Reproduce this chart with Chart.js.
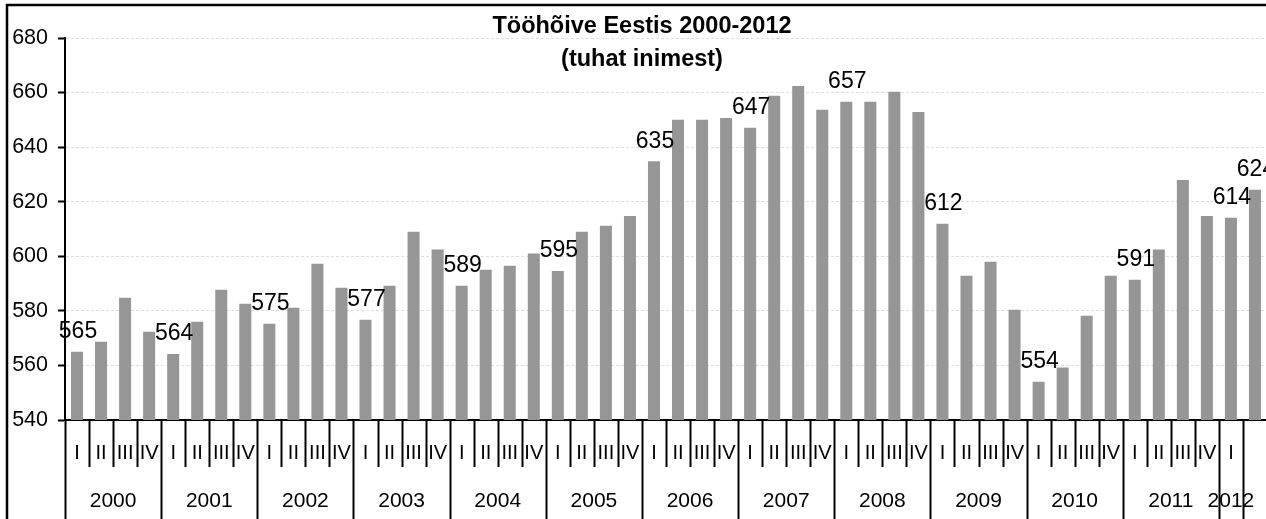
<!DOCTYPE html>
<html>
<head>
<meta charset="utf-8">
<title>Tööhõive Eestis 2000-2012</title>
<script src="https://cdn.jsdelivr.net/npm/chart.js"></script>
<style>
  html, body { margin: 0; padding: 0; background: #fff; overflow: hidden; }
  #wrap { width: 1270px; height: 519px; }
</style>
</head>
<body>
<div id="wrap"><canvas id="chart" width="1270" height="519"></canvas></div>
<script>
// andmed (tuhat inimest), kvartalid 2000 I ... 2012 II
const years = ['2000', '2001', '2002', '2003', '2004', '2005', '2006',
               '2007', '2008', '2009', '2010', '2011', '2012'];
const quartersPerYear = [4, 4, 4, 4, 4, 4, 4, 4, 4, 4, 4, 4, 1];
const quarterLabels = [
  'I', 'II', 'III', 'IV', 'I', 'II', 'III', 'IV', 'I', 'II', 'III', 'IV',
  'I', 'II', 'III', 'IV', 'I', 'II', 'III', 'IV', 'I', 'II', 'III', 'IV',
  'I', 'II', 'III', 'IV', 'I', 'II', 'III', 'IV', 'I', 'II', 'III', 'IV',
  'I', 'II', 'III', 'IV', 'I', 'II', 'III', 'IV', 'I', 'II', 'III', 'IV',
  'I', ''
];
const employed = [
  565.0, 568.7, 584.8, 572.3,
  564.2, 576.0, 587.7, 582.6,
  575.3, 581.1, 597.3, 588.5,
  576.7, 589.2, 609.0, 602.5,
  589.2, 595.1, 596.5, 601.0,
  594.6, 609.0, 611.2, 614.8,
  634.8, 650.0, 650.0, 650.7,
  647.1, 658.8, 662.4, 653.7,
  656.6, 656.6, 660.3, 652.9,
  611.9, 592.9, 598.0, 580.4,
  554.0, 559.2, 578.2, 592.9,
  591.4, 602.5, 628.0, 614.8,
  614.1, 624.4
];
const yTicks = [540, 560, 580, 600, 620, 640, 660, 680];
const titleLines = ['Tööhõive Eestis 2000-2012', '(tuhat inimest)'];

const FONT = '"Liberation Sans", Arial, sans-serif';
Chart.defaults.font.family = FONT;
Chart.defaults.color = '#000';

// raam, pealkiri, kvartali- ja aastasildid, väärtussildid
const decor = {
  id: 'decor',
  beforeDraw(chart) {
    const ctx = chart.ctx;
    ctx.save();
    ctx.strokeStyle = '#000';
    ctx.lineWidth = 2.5;
    ctx.beginPath();
    ctx.moveTo(7, chart.height + 5);
    ctx.lineTo(7, 5);
    ctx.lineTo(chart.width + 5, 5);
    ctx.stroke();
    ctx.restore();
  },
  afterDraw(chart) {
    const ctx = chart.ctx;
    const x = chart.scales.x;
    const area = chart.chartArea;
    const half = (x.getPixelForValue(1) - x.getPixelForValue(0)) / 2;
    const edge = i => x.getPixelForValue(i) - half;

    ctx.save();
    ctx.fillStyle = '#000';
    ctx.strokeStyle = '#000';
    ctx.textAlign = 'center';
    ctx.textBaseline = 'middle';

    // kvartalid
    ctx.font = '20px ' + FONT;
    quarterLabels.forEach((q, i) => {
      ctx.fillText(q, x.getPixelForValue(i), area.bottom + 33);
    });

    // eraldusjooned
    ctx.lineWidth = 2;
    const yearStarts = [];
    let k = 0;
    quartersPerYear.forEach(n => { yearStarts.push(k); k += n; });
    yearStarts.push(k);
    for (let i = 0; i < quarterLabels.length; i++) {
      const long = yearStarts.includes(i);
      const px = Math.round(edge(i)) + 0.5;
      ctx.beginPath();
      ctx.moveTo(px, area.bottom);
      ctx.lineTo(px, long ? chart.height : area.bottom + 47);
      ctx.stroke();
    }

    // aastad
    ctx.font = '21px ' + FONT;
    years.forEach((y, j) => {
      const a = edge(yearStarts[j]);
      const b = edge(yearStarts[j] + quartersPerYear[j]);
      ctx.fillText(y, (a + b) / 2, area.bottom + 81);
    });

    // väärtused: iga aasta I kvartal ja viimane
    const meta = chart.getDatasetMeta(0);
    ctx.font = '23px ' + FONT;
    employed.forEach((v, i) => {
      if (quarterLabels[i] !== 'I' && i !== employed.length - 1) return;
      const bar = meta.data[i];
      ctx.fillText(String(Math.round(v)), bar.x + 1, bar.y - 20);
    });

    // pealkiri
    ctx.font = 'bold 23.5px ' + FONT;
    ctx.fillText(titleLines[0], 642, 27);
    ctx.fillText(titleLines[1], 642, 60);
    ctx.restore();
  }
};

new Chart(document.getElementById('chart'), {
  type: 'bar',
  data: {
    labels: quarterLabels,
    datasets: [{
      data: employed,
      backgroundColor: '#969696',
      borderWidth: 0,
      categoryPercentage: 0.5,
      barPercentage: 1.0
    }]
  },
  options: {
    responsive: false,
    animation: false,
    layout: { padding: { top: 38, right: 3, left: 0, bottom: 0 } },
    plugins: {
      legend: { display: false },
      title: { display: false },
      tooltip: { enabled: false }
    },
    scales: {
      x: {
        grid: { display: false },
        border: { display: true, color: '#000', width: 2 },
        ticks: { display: false },
        afterFit(scale) { scale.height = 99; }
      },
      y: {
        min: yTicks[0],
        max: yTicks[yTicks.length - 1],
        afterBuildTicks(scale) { scale.ticks = yTicks.map(v => ({ value: v })); },
        afterFit(scale) { scale.width = 65; },
        grid: {
          color: '#dedede',
          lineWidth: 1,
          tickLength: 7,
          tickColor: '#000',
          tickWidth: 2,
          tickBorderDash: []
        },
        border: { display: true, color: '#000', width: 2, dash: [3, 2] },
        ticks: {
          padding: 10,
          font: { size: 21.5 },
          color: '#000'
        }
      }
    }
  },
  plugins: [decor]
});
</script>
</body>
</html>
